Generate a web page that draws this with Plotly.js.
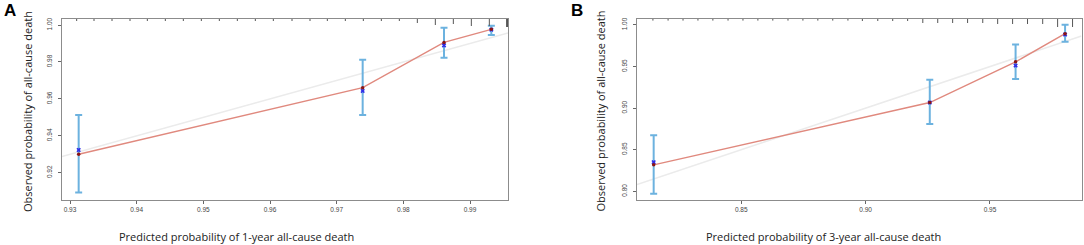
<!DOCTYPE html>
<html>
<head>
<meta charset="utf-8">
<script src="https://cdn.plot.ly/plotly-3.0.1.min.js"></script>
<style>
html,body{margin:0;padding:0;background:#fff;}
#chart{width:1084px;height:245px;}
</style>
</head>
<body>
<div id="chart"></div>
<script>
// ---- Panel A data (1-year) ----
const predA = [0.9313, 0.9739, 0.9861, 0.9932];
const obsA  = [0.9300, 0.9661, 0.9906, 0.9977];
const corrA = [0.9323, 0.9643, 0.9890, 0.9975];
const lowA  = [0.9092, 0.9513, 0.9823, 0.9946];
const highA = [0.9513, 0.9812, 0.9986, 0.9996];
const rugXA = [0.9310, 0.9336, 0.9363, 0.9390, 0.9416, 0.9443, 0.9470, 0.9497, 0.9524, 0.9551,
               0.9578, 0.9605, 0.9633, 0.9660, 0.9686, 0.9713, 0.9740, 0.9767, 0.9794, 0.9821,
               0.9848, 0.9875, 0.9902, 0.9929, 0.9956];
const rugNA = [1, 1, 1, 1, 1, 1, 1, 1, 1, 1,
               1, 1, 1, 1, 1, 1, 1, 1, 1, 2,
               3, 2.5, 3.5, 3.5, 4];
const xTicksA = [0.93, 0.94, 0.95, 0.96, 0.97, 0.98, 0.99];
const yTicksA = [0.92, 0.94, 0.96, 0.98, 1.00];
const xRangeA = [0.9288, 0.9957];
const yRangeA = [0.9052, 1.0033];
const xTitleA = "Predicted probability of 1-year all-cause death";

// ---- Panel B data (3-year) ----
const predB = [0.8148, 0.9258, 0.9603, 0.9802];
const obsB  = [0.8319, 0.9068, 0.9557, 0.9895];
const corrB = [0.8351, 0.9068, 0.9512, 0.9885];
const lowB  = [0.7971, 0.8810, 0.9351, 0.9798];
const highB = [0.8673, 0.9342, 0.9766, 1.0004];
const rugXB = [0.8145, 0.8206, 0.8266, 0.8326, 0.8386, 0.8447, 0.8507, 0.8567, 0.8627, 0.8688,
               0.8748, 0.8808, 0.8868, 0.8929, 0.8987, 0.9049, 0.9109, 0.9169, 0.9230, 0.9290,
               0.9350, 0.9410, 0.9471, 0.9531, 0.9591, 0.9651, 0.9712, 0.9772, 0.9832];
const rugNB = [0.8, 0.8, 0.8, 0.8, 0.8, 0.8, 0.8, 0.8, 0.8, 0.8,
               0.8, 0.8, 0.8, 0.8, 1, 1, 1, 1, 2, 2,
               2, 2, 2, 2.5, 2.5, 2.5, 2.5, 4, 4];
const xTicksB = [0.85, 0.90, 0.95];
const yTicksB = [0.80, 0.85, 0.90, 0.95, 1.00];
const xRangeB = [0.8081, 0.9868];
const yRangeB = [0.7896, 1.0072];
const xTitleB = "Predicted probability of 3-year all-cause death";

const yTitle = "Observed probability of all-cause death";
const panelLabels = ["A", "B"];

// ---- styles ----
const W = 1084, H = 245;
const C = {
  ideal: '#ebebeb', red: '#e0897e', dot: '#8b1414', blue: '#2f2fe8',
  err: '#6cb2df', axis: '#8c8c8c', tick: '#666', text: '#222', rug: '#555'
};
const tickFont = {family: 'Liberation Sans, Arial, sans-serif', size: 6.5, color: '#444'};
const titleFont = {family: 'Open Sans, Noto Sans, sans-serif', size: 11, color: C.text};

function panelTraces(pred, obs, corr, low, high, xr, xa, ya) {
  return [
    {x: xr, y: xr, mode: 'lines', line: {color: C.ideal, width: 1.5}, xaxis: xa, yaxis: ya, hoverinfo: 'skip'},
    {x: pred, y: obs, mode: 'lines', line: {color: C.red, width: 1.4}, xaxis: xa, yaxis: ya},
    {x: pred, y: obs, mode: 'markers', marker: {size: 1, color: 'rgba(0,0,0,0)'},
     error_y: {type: 'data', symmetric: false,
               array: high.map((h, i) => h - obs[i]),
               arrayminus: low.map((l, i) => obs[i] - l),
               color: C.err, thickness: 2, width: 3.5},
     xaxis: xa, yaxis: ya},
    {x: pred, y: corr, mode: 'markers', marker: {symbol: 'x', size: 4, color: C.blue}, xaxis: xa, yaxis: ya},
    {x: pred, y: obs, mode: 'markers', marker: {symbol: 'circle', size: 3.5, color: C.dot}, xaxis: xa, yaxis: ya}
  ];
}

const data = [].concat(
  panelTraces(predA, obsA, corrA, lowA, highA, xRangeA, 'x', 'y'),
  panelTraces(predB, obsB, corrB, lowB, highB, xRangeB, 'x2', 'y2')
);

function rugShapes(xs, ns, xref, yref, ytop) {
  return xs.map((x, i) => ({
    type: 'line', xref: xref, yref: yref, ysizemode: 'pixel', yanchor: ytop,
    x0: x, x1: x, y0: 0, y1: -2 * ns[i],
    line: {color: C.rug, width: i === xs.length - 1 && xref === 'x' ? 2.5 : 1}
  }));
}

function xAxis(range, ticks, domain, anchor) {
  return {domain: domain, range: range, anchor: anchor, tickvals: ticks, tickformat: '.2f',
    showgrid: false, zeroline: false, showline: true, mirror: true, linecolor: C.axis, linewidth: 1.3,
    ticks: 'outside', ticklen: 3, tickcolor: C.tick, tickwidth: 1, tickfont: tickFont};
}
function yAxis(range, ticks, domain, anchor) {
  return {domain: domain, range: range, anchor: anchor, tickvals: ticks, tickformat: '.2f', tickangle: -90,
    showgrid: false, zeroline: false, showline: true, mirror: true, linecolor: C.axis, linewidth: 1.3,
    ticks: 'outside', ticklen: 3, tickcolor: C.tick, tickwidth: 1, tickfont: tickFont, ticklabelstandoff: 3};
}

const yDom = [1 - 200 / H, 1 - 19 / H];
const layout = {
  width: W, height: H, margin: {l: 0, r: 0, t: 0, b: 0},
  paper_bgcolor: '#fff', plot_bgcolor: '#fff', showlegend: false,
  xaxis: xAxis(xRangeA, xTicksA, [62 / W, 508 / W], 'y'),
  yaxis: yAxis(yRangeA, yTicksA, yDom, 'x'),
  xaxis2: xAxis(xRangeB, xTicksB, [637 / W, 1081.5 / W], 'y2'),
  yaxis2: yAxis(yRangeB, yTicksB, yDom, 'x2'),
  shapes: [].concat(
    rugShapes(rugXA, rugNA, 'x', 'y', yRangeA[1]),
    rugShapes(rugXB, rugNB, 'x2', 'y2', yRangeB[1])
  ),
  annotations: [
    {text: xTitleA, xref: 'paper', yref: 'paper', x: 236 / W, y: 1 - 236 / H, xanchor: 'center', yanchor: 'middle', showarrow: false, font: titleFont},
    {text: xTitleB, xref: 'paper', yref: 'paper', x: 823 / W, y: 1 - 236 / H, xanchor: 'center', yanchor: 'middle', showarrow: false, font: titleFont},
    {text: yTitle, xref: 'paper', yref: 'paper', x: 27.5 / W, y: 1 - 111.5 / H, textangle: -90, xanchor: 'center', yanchor: 'middle', showarrow: false, font: titleFont},
    {text: yTitle, xref: 'paper', yref: 'paper', x: 600 / W, y: 1 - 111.5 / H, textangle: -90, xanchor: 'center', yanchor: 'middle', showarrow: false, font: titleFont},
    {text: '<b>' + panelLabels[0] + '</b>', xref: 'paper', yref: 'paper', x: 9.5 / W, y: 1 - 11 / H, xanchor: 'center', yanchor: 'middle', showarrow: false, font: {family: 'Liberation Sans, Arial, sans-serif', size: 17, color: '#000'}},
    {text: '<b>' + panelLabels[1] + '</b>', xref: 'paper', yref: 'paper', x: 577 / W, y: 1 - 11 / H, xanchor: 'center', yanchor: 'middle', showarrow: false, font: {family: 'Liberation Sans, Arial, sans-serif', size: 17, color: '#000'}}
  ]
};

Plotly.newPlot('chart', data, layout, {staticPlot: true, displayModeBar: false});
</script>
</body>
</html>
